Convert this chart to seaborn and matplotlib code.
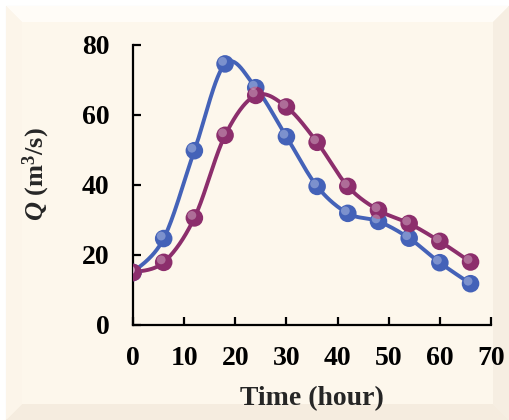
import numpy as np
import pandas as pd
import matplotlib
matplotlib.use("Agg")
import matplotlib.pyplot as plt
import matplotlib.transforms as mtransforms
from matplotlib.patches import Polygon, Rectangle
import seaborn as sns

# data
time_h = [0, 6, 12, 18, 24, 30, 36, 42, 48, 54, 60, 66]
q_blue = [15, 24.7, 49.8, 74.6, 67.8, 53.8, 39.6, 31.9, 29.6, 24.8, 17.8, 11.8]
q_purple = [15, 17.9, 30.6, 54.2, 65.6, 62.3, 52.2, 39.6, 32.8, 29.0, 23.9, 18.0]
x_ticks = [0, 10, 20, 30, 40, 50, 60, 70]
y_ticks = [0, 20, 40, 60, 80]

blue = "#4462B8"
purple = "#8C2E6C"


def smooth(x, y, sx=5.11, sy=3.47, n=30):
    # Excel-like smoothed line (Catmull-Rom bezier) in screen-ish space
    p = np.column_stack([np.asarray(x, float) * sx, np.asarray(y, float) * sy])
    out = []
    for i in range(len(p) - 1):
        p0 = p[i - 1] if i > 0 else p[i]
        p1, p2 = p[i], p[i + 1]
        p3 = p[i + 2] if i + 2 < len(p) else p[i + 1]
        c1 = p1 + (p2 - p0) / 6
        c2 = p2 - (p3 - p1) / 6
        t = np.linspace(0, 1, n)[:, None]
        seg = (1 - t) ** 3 * p1 + 3 * (1 - t) ** 2 * t * c1 + 3 * (1 - t) * t ** 2 * c2 + t ** 3 * p2
        out.append(seg if i == 0 else seg[1:])
    out = np.vstack(out)
    return out[:, 0] / sx, out[:, 1] / sy


sns.set_style("ticks")
plt.rcParams["font.family"] = ["Liberation Serif", "DejaVu Serif"]
plt.rcParams["font.weight"] = "bold"
plt.rcParams["mathtext.fontset"] = "custom"
plt.rcParams["mathtext.rm"] = "Liberation Serif:bold"
plt.rcParams["mathtext.it"] = "Liberation Serif:italic:bold"
plt.rcParams["mathtext.bf"] = "Liberation Serif:bold"

fig = plt.figure(figsize=(5.1, 4.2), dpi=100)
fig.patch.set_facecolor("white")

# beveled cream frame
W, H = 510, 420
def fx(px):
    return px / W
def fy(py):
    return 1 - py / H
x0, y0, x1, y1 = 6, 6, 509, 420
fig.patches.append(Rectangle((fx(x0), fy(y1)), fx(x1) - fx(x0), fy(y0) - fy(y1),
                             transform=fig.transFigure, facecolor="#FDF7EC",
                             edgecolor="#ECE6DC", lw=0.8, zorder=-3))
b = 16
bevels = [
    ([(x0, y0), (x1, y0), (x1 - b, y0 + b), (x0 + b, y0 + b)], "#FFFCF7"),
    ([(x1, y0), (x1, y1), (x1 - b, y1 - b), (x1 - b, y0 + b)], "#F6EEE2"),
    ([(x0, y1), (x1, y1), (x1 - b, y1 - b), (x0 + b, y1 - b)], "#F5ECDF"),
    ([(x0, y0), (x0, y1), (x0 + b, y1 - b), (x0 + b, y0 + b)], "#FCF5EA"),
]
for pts, c in bevels:
    fig.patches.append(Polygon([(fx(a), fy(bb)) for a, bb in pts], closed=True,
                               transform=fig.transFigure, facecolor=c, edgecolor="none", zorder=-2))

ax = fig.add_axes([133 / W, 1 - 325 / H, (491 - 133) / W, (325 - 45) / H])
ax.set_facecolor("none")

df = pd.DataFrame({"time": time_h, "blue": q_blue, "purple": q_purple})

for col, c in [("blue", blue), ("purple", purple)]:
    sx, sy = smooth(df["time"], df[col])
    sns.lineplot(x=sx, y=sy, ax=ax, color=c, lw=2.8, sort=False, estimator=None, zorder=2)
    sns.scatterplot(x=df["time"], y=df[col], ax=ax, color=c, s=160, edgecolor="none",
                    linewidth=0, zorder=3)
    hl = mtransforms.offset_copy(ax.transData, fig=fig, x=-1.8, y=1.8, units="points")
    ax.scatter(df["time"], df[col], s=40, color="white", alpha=0.3, edgecolor="none",
               transform=hl, zorder=4)

ax.set_xlim(0, 70)
ax.set_ylim(0, 80)
ax.set_xticks(x_ticks)
ax.set_yticks(y_ticks)
sns.despine(ax=ax)
for s in ["left", "bottom"]:
    ax.spines[s].set_linewidth(1.6)
    ax.spines[s].set_color("black")
ax.tick_params(direction="in", length=6, width=1.6, labelsize=20, colors="black")
ax.tick_params(axis="x", pad=15)
ax.tick_params(axis="y", pad=17)
for lab in ax.get_xticklabels() + ax.get_yticklabels():
    lab.set_fontweight("bold")

ax.set_xlabel("Time (hour)", fontsize=20, fontweight="bold", labelpad=11)
ax.set_ylabel(r"$Q$ (m$^{3}$/s)", fontsize=19, fontweight="bold")
ax.yaxis.set_label_coords(-0.225, 0.54)

fig.savefig("out.png", dpi=100)
